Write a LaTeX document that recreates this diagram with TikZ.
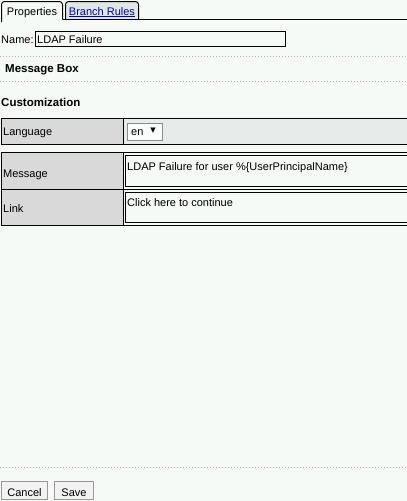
\documentclass[tikz,border=0pt]{standalone}
\usepackage{fontspec}
\setmainfont{Liberation Sans}
\newfontfamily\symfont{DejaVu Sans}
\usetikzlibrary{positioning}
\definecolor{pagebg}{HTML}{F5FAF7}
\definecolor{cellgrey}{HTML}{D9D9D9}
\definecolor{valuegrey}{HTML}{E7EBE9}
\definecolor{tabgrey}{HTML}{E0E8E4}
\definecolor{linkblue}{HTML}{0000CC}
\definecolor{dotgrey}{HTML}{B4B8B6}
\tikzstyle{plain} = [inner sep=0pt, font=\fontsize{11}{13}\selectfont]
\tikzstyle{heading} = [inner sep=0pt, font=\fontsize{11.5}{13}\selectfont\bfseries]
\tikzstyle{tabbox} = [draw=black, line width=1pt, rounded corners=3pt]
\tikzstyle{labelcell} = [draw=black, line width=1pt, fill=cellgrey]
\tikzstyle{textbox} = [draw=black, line width=1pt, fill=pagebg]
\tikzstyle{button} = [draw=black!40, line width=1pt, fill=black!5]
\tikzstyle{dotline} = [dotgrey, line width=1pt, dotted]

\begin{document}
\begin{tikzpicture}[x=1pt, y=-1pt]
	\fill[pagebg] (0,0) rectangle (407,501);
	\useasboundingbox (0,0) rectangle (407,501);
	% tabs
	\draw[tabbox, fill=tabgrey] (65.5,19.5) -- (65.5,1.5) -- (138.5,1.5) -- (138.5,19.5);
	\draw[tabbox, fill=pagebg] (1.5,22) -- (1.5,1.5) -- (62.5,1.5) -- (62.5,19.5);
	\draw[black, line width=1pt] (62.5,19.5) -- (407,19.5);
	\node (proptab) at (32,15) [plain, anchor=base] {Properties};
	\node (branchtab) at (102,15) [plain, anchor=base, text=linkblue] {\underline{Branch Rules}};
	% name
	\node (namelabel) at (1,43) [plain, anchor=base west] {Name:};
	\draw[textbox] (35.5,31.5) rectangle (285.5,46.5);
	\node (nametext) at (37,43) [plain, anchor=base west] {LDAP Failure};
	\draw[dotline] (0,56.5) -- (407,56.5);
	\node (msgbox) at (5,72.5) [heading, anchor=base west] {Message Box};
	\draw[dotline] (0,81.5) -- (407,81.5);
	\node (custom) at (1,106) [heading, anchor=base west] {Customization};
	% language row
	\draw[draw=black, line width=1pt, fill=valuegrey] (123.5,118.5) rectangle (409,144.5);
	\draw[labelcell] (1.5,118.5) rectangle (123.5,144.5);
	\node (langlabel) at (3,135.5) [plain, anchor=base west] {Language};
	\draw[draw=black!45, line width=1pt, fill=white!60!pagebg] (127.5,123.5) rectangle (162.5,140.5);
	\node (langvalue) at (131,135.5) [plain, anchor=base west] {en};
	\node (langarrow) at (153,130.5) [inner sep=0pt, font=\symfont\fontsize{7}{8}\selectfont] {▼};
	% message and link rows
	\draw[draw=black, line width=1pt, fill=pagebg] (123.5,152.5) rectangle (409,225.5);
	\draw[labelcell] (1.5,152.5) rectangle (123.5,189.5);
	\draw[labelcell] (1.5,189.5) rectangle (123.5,225.5);
	\draw[black, line width=1pt] (123.5,189.5) -- (409,189.5);
	\draw[textbox] (125.5,155.5) rectangle (409,186.5);
	\draw[textbox] (125.5,192.5) rectangle (409,222.5);
	\node (msglabel) at (3,177) [plain, anchor=base west] {Message};
	\node (linklabel) at (3,212) [plain, anchor=base west] {Link};
	\node (msgtext) at (127,170.5) [plain, anchor=base west] {LDAP Failure for user \%\{UserPrincipalName\}};
	\node (linktext) at (127,206) [plain, anchor=base west] {Click here to continue};
	% buttons
	\draw[dotline] (0,467.5) -- (407,467.5);
	\draw[button] (1.5,481.5) rectangle (47.5,499.5);
	\node (cancel) at (24.5,496) [plain, anchor=base] {Cancel};
	\draw[button] (54.5,481.5) rectangle (93.5,499.5);
	\node (save) at (74,496) [plain, anchor=base] {Save};
\end{tikzpicture}
\end{document}
